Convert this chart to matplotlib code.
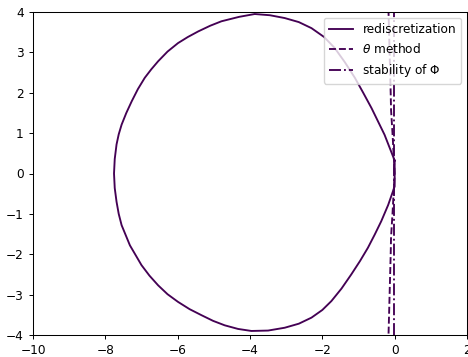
import matplotlib
matplotlib.use("Agg")
import matplotlib.pyplot as plt

plt.rcParams['font.size'] = 8.7
plt.rcParams['lines.linewidth'] = 1.35
plt.rcParams['axes.linewidth'] = 0.75
plt.rcParams['xtick.major.size'] = 3.1
plt.rcParams['ytick.major.size'] = 3.1
plt.rcParams['xtick.major.width'] = 0.7
plt.rcParams['ytick.major.width'] = 0.7

# boundary of the rediscretization stability region:
# upper half from the cusp leftwards, then lower half back to the cusp
redisc_x = [0.0, -0.14, -0.28, -0.46, -0.64, -0.87, -1.10, -1.38, -1.66, -1.95,
            -2.30, -2.65, -3.04, -3.45, -3.87, -4.30, -4.79, -5.10, -5.43, -5.72,
            -5.99, -6.28, -6.54, -6.73, -6.91, -7.10, -7.27, -7.42, -7.55, -7.63,
            -7.69, -7.74, -7.76,
            -7.74, -7.69, -7.63, -7.55, -7.32, -7.00, -6.78, -6.54, -6.28, -5.99,
            -5.67, -5.34, -5.02, -4.70, -4.33, -3.96, -3.50, -3.04, -2.65, -2.30,
            -2.00, -1.75, -1.47, -1.20, -0.96, -0.74, -0.55, -0.37, -0.18, 0.0, 0.0]
redisc_y = [0.32, 0.64, 0.96, 1.29, 1.62, 2.00, 2.37, 2.76, 3.11, 3.38,
            3.60, 3.75, 3.85, 3.92, 3.95, 3.88, 3.77, 3.66, 3.52, 3.38,
            3.23, 3.02, 2.78, 2.58, 2.37, 2.09, 1.79, 1.50, 1.21, 0.97,
            0.72, 0.36, 0.0,
            -0.36, -0.70, -1.00, -1.28, -1.78, -2.27, -2.53, -2.77, -2.99, -3.18,
            -3.36, -3.51, -3.65, -3.76, -3.85, -3.90, -3.89, -3.82, -3.72, -3.57,
            -3.38, -3.16, -2.85, -2.50, -2.17, -1.84, -1.51, -1.18, -0.78, -0.32, 0.32]

# theta method boundary
theta_x = [-0.19, -0.17, -0.14, -0.11, -0.10, -0.06, -0.03, 0.0,
           -0.03, -0.06, -0.10, -0.11, -0.14, -0.17, -0.19]
theta_y = [4.5, 4.0, 3.0, 2.0, 1.57, 1.0, 0.5, 0.0,
           -0.5, -1.0, -1.57, -2.0, -3.0, -4.0, -4.5]

# stability boundary of Phi
phi_x = [-0.01, -0.01]
phi_y = [-4.5, 4.5]

color = '#440154'

fig = plt.figure(figsize=(4.68, 3.57), dpi=100)
ax = fig.add_axes([33 / 468, 22 / 357, 434 / 468, 323 / 357])

ax.plot(redisc_x, redisc_y, '-', color=color, label='rediscretization')
ax.plot(theta_x, theta_y, '--', color=color, label=r'$\theta$ method')
ax.plot(phi_x, phi_y, '-.', color=color, label=r'stability of $\Phi$')

ax.set_xlim(-10, 2)
ax.set_ylim(-4, 4)
ax.set_xticks(range(-10, 3, 2))
ax.set_yticks(range(-4, 5))
ax.legend(loc='upper right')

fig.savefig('out.png', dpi=100)
